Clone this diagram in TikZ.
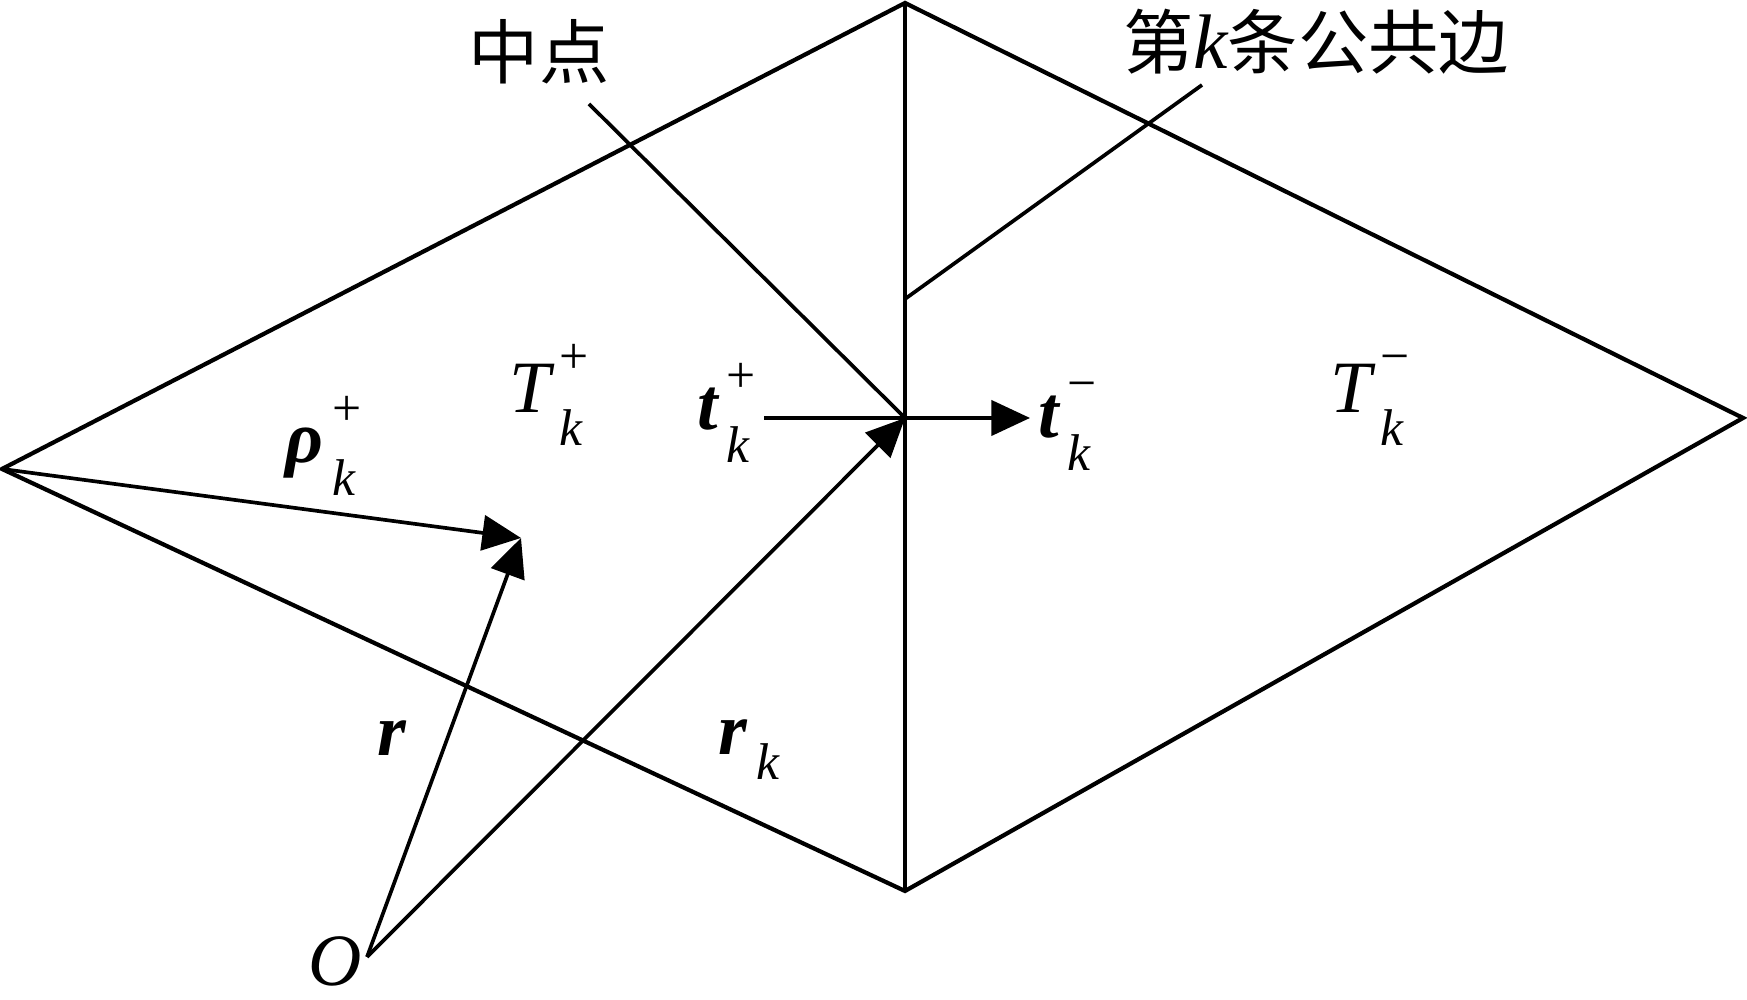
\documentclass[tikz,border=0pt]{standalone}
\usepackage{amsmath}
\usepackage{fontspec}
\setmainfont{Liberation Serif}
\newfontfamily\cjk{Noto Sans CJK SC}
\usetikzlibrary{arrows.meta}
\newcommand{\vbi}[1]{\text{\bfseries\itshape #1}}
\newcommand{\vit}[1]{\text{\itshape #1}}
\newcommand{\up}[1]{\text{\raisebox{3pt}{\,#1}}}
\newcommand{\dn}[1]{\text{\raisebox{-4pt}{\,\itshape #1}}}

\begin{document}
\begin{tikzpicture}[every node/.style={inner sep=0pt,font=\fontsize{21}{25}\selectfont},
 edge/.style={line width=1.2pt,line join=miter},
 vec/.style={line width=1.05pt,-{Triangle[length=11pt,width=10pt]}},
 lead/.style={line width=1.05pt},
 cn/.style={font=\fontsize{20}{24}\selectfont\cjk}]
 \useasboundingbox (0,0) rectangle (17.47,10);
 \coordinate (top) at (9.05,9.97);
 \coordinate (bot) at (9.05,1.09);
 \coordinate (left) at (0.02,5.31);
 \coordinate (right) at (17.43,5.82);
 \coordinate (mid) at (9.05,5.82);
 \coordinate (orig) at (3.67,0.43);
 \coordinate (p) at (5.21,4.62);
 \coordinate (tp) at (7.64,5.82);
 \coordinate (tm) at (10.30,5.82);
 \coordinate (zd) at (5.89,8.96);
 \coordinate (gb) at (12.02,9.15);
 \coordinate (gbe) at (9.05,7.01);
 \draw[edge] (left)--(top)--(right)--(bot)--cycle;
 \draw[edge] (top)--(bot);
 \draw[lead] (zd)--(mid);
 \draw[lead] (gb)--(gbe);
 \draw[lead] (tp)--(mid);
 \draw[vec] (mid)--(tm);
 \draw[vec] (left)--(p);
 \draw[vec] (orig)--(p);
 \draw[vec] (orig)--(mid);
 \node[cn] (zhong) at (5.39,9.48) {中点};
 \node[cn] (gong) at (13.16,9.58) {第{\rmfamily\itshape\fontsize{22}{26}\selectfont k}条公共边};
 \node[anchor=base west] (Tplus) at (5.09,5.87) {$\vit{T}^{\up{+}}_{\dn{k}}$};
 \node[anchor=base west] (Tminus) at (13.30,5.87) {$\vit{T}^{\up{−}}_{\dn{k}}$};
 \node[anchor=base west] (tplus) at (6.97,5.70) {$\vbi{t}^{\up{+}}_{\dn{k}}$};
 \node[anchor=base west] (tminus) at (10.38,5.62) {$\vbi{t}^{\up{−}}_{\dn{k}}$};
 \node[anchor=base west] (rho) at (2.85,5.37) {$\vbi{ρ}^{\up{+}}_{\dn{k}}$};
 \node[anchor=base west] (r) at (3.77,2.44) {$\vbi{r}$};
 \node[anchor=base west] (rk) at (7.18,2.45) {$\vbi{r}_{\dn{k}}$};
 \node[anchor=base west] (o) at (3.08,0.14) {\textit{O}};
\end{tikzpicture}
\end{document}
